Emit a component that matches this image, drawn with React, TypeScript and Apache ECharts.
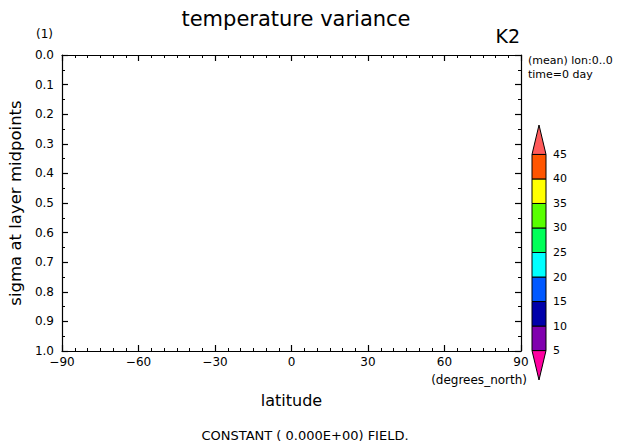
import React, { useEffect, useRef } from "react";
import * as echarts from "echarts";

const titleText = "temperature variance";
const unitText = "(1)";
const expText = "K2";
const infoLines = ["(mean) lon:0..0", "time=0 day"];
const xName = "latitude";
const xUnit = "(degrees_north)";
const yName = "sigma at layer midpoints";
const footText = "CONSTANT ( 0.000E+00) FIELD.";

const latMin = -90;
const latMax = 90;
const latStep = 30;
const sigmaMin = 0;
const sigmaMax = 1;
const sigmaStep = 0.1;

const levels = [5, 10, 15, 20, 25, 30, 35, 40, 45];
const levelColors = [
  "#FF00A0",
  "#8000AE",
  "#0000AA",
  "#0058FF",
  "#00FFFF",
  "#00FF58",
  "#58FF00",
  "#FFFF00",
  "#FF5500",
  "#FF5A5A",
];

const FONT = "DejaVu Sans";

function fmtLat(v: number) {
  return v < 0 ? "\u2212" + Math.abs(v) : String(v);
}

export default function App() {
  const ref = useRef<HTMLDivElement>(null);
  useEffect(() => {
    if (!ref.current) return;
    const chart = echarts.init(ref.current, undefined, { renderer: "svg" });
    const ext = 6;
    const barData = levelColors.map((c, i) => {
      const low = i === 0 ? levels[0] - ext : levels[i - 1];
      const high = i === levels.length ? levels[levels.length - 1] + ext : levels[i];
      return [low, high, i];
    });
    const axisLine = { onZero: false, lineStyle: { color: "#000", width: 1.2 } };
    const tick = { inside: true, length: 6, lineStyle: { color: "#000", width: 1.2 } };
    const minor = (n: number) => ({
      show: true,
      splitNumber: n,
      length: 3,
      lineStyle: { color: "#000", width: 1 },
    });
    chart.setOption({
      animation: false,
      backgroundColor: "#fff",
      textStyle: { fontFamily: FONT, color: "#000" },
      title: {
        text: titleText,
        left: 291,
        textAlign: "center",
        top: 3,
        textStyle: { fontSize: 21, fontWeight: "normal", color: "#000", fontFamily: FONT },
      },
      grid: [
        { left: 62, right: 102, top: 55, bottom: 96, containLabel: false, outerBoundsMode: "none" },
        { left: 532, width: 14, top: 125, height: 255, containLabel: false, outerBoundsMode: "none" },
      ],
      xAxis: [
        {
          type: "value",
          gridIndex: 0,
          position: "bottom",
          min: latMin,
          max: latMax,
          interval: latStep,
          axisLine,
          axisTick: tick,
          minorTick: minor(6),
          splitLine: { show: false },
          axisLabel: { formatter: fmtLat, fontSize: 12, color: "#000", margin: 5, fontFamily: FONT },
          name: xName,
          nameLocation: "middle",
          nameGap: 41,
          nameTextStyle: { fontSize: 16, color: "#000", fontFamily: FONT },
        },
        {
          type: "value",
          gridIndex: 0,
          position: "top",
          min: latMin,
          max: latMax,
          interval: latStep,
          axisLine,
          axisTick: tick,
          minorTick: minor(6),
          splitLine: { show: false },
          axisLabel: { show: false },
        },
        { type: "value", gridIndex: 1, min: 0, max: 1, show: false },
      ],
      yAxis: [
        {
          type: "value",
          gridIndex: 0,
          position: "left",
          inverse: true,
          min: sigmaMin,
          max: sigmaMax,
          interval: sigmaStep,
          axisLine,
          axisTick: tick,
          minorTick: minor(2),
          splitLine: { show: false },
          axisLabel: {
            formatter: (v: number) => v.toFixed(1),
            fontSize: 12,
            color: "#000",
            margin: 8,
            fontFamily: FONT,
          },
          name: yName,
          nameLocation: "middle",
          nameGap: 34,
          nameRotate: 90,
          nameTextStyle: { fontSize: 16.5, color: "#000", fontFamily: FONT },
        },
        {
          type: "value",
          gridIndex: 0,
          position: "right",
          inverse: true,
          min: sigmaMin,
          max: sigmaMax,
          interval: sigmaStep,
          axisLine,
          axisTick: tick,
          minorTick: minor(2),
          splitLine: { show: false },
          axisLabel: { show: false },
        },
        {
          type: "value",
          gridIndex: 1,
          min: levels[0] - ext,
          max: levels[levels.length - 1] + ext,
          show: false,
        },
      ],
      series: [
        {
          type: "custom",
          xAxisIndex: 2,
          yAxisIndex: 2,
          clip: false,
          silent: true,
          data: barData,
          renderItem: (params: any, api: any) => {
            const low = api.value(0);
            const high = api.value(1);
            const i = api.value(2);
            const pLow = api.coord([0, low]);
            const pHigh = api.coord([1, high]);
            const xl = pLow[0];
            const xr = pHigh[0];
            const xm = (xl + xr) / 2;
            const color = levelColors[i];
            const children: any[] = [];
            if (i === 0) {
              children.push({
                type: "polygon",
                shape: { points: [[xl, pHigh[1]], [xr, pHigh[1]], [xm, pLow[1]]] },
                style: { fill: color, stroke: "#000", lineWidth: 1 },
              });
            } else if (i === levels.length) {
              children.push({
                type: "polygon",
                shape: { points: [[xl, pLow[1]], [xr, pLow[1]], [xm, pHigh[1]]] },
                style: { fill: color, stroke: "#000", lineWidth: 1 },
              });
            } else {
              children.push({
                type: "rect",
                shape: { x: xl, y: pHigh[1], width: xr - xl, height: pLow[1] - pHigh[1] },
                style: { fill: color, stroke: "#000", lineWidth: 1 },
              });
            }
            if (i >= 1) {
              children.push({
                type: "text",
                style: {
                  text: String(levels[i - 1]),
                  x: xr + 7,
                  y: pLow[1],
                  verticalAlign: "middle",
                  align: "left",
                  fontSize: 11,
                  fill: "#000",
                  fontFamily: FONT,
                },
              });
            }
            return { type: "group", children };
          },
        },
      ],
      graphic: [
        {
          type: "text",
          left: 36,
          top: 28,
          style: { text: unitText, fontSize: 12, fill: "#000", fontFamily: FONT },
        },
        {
          type: "text",
          right: 103,
          top: 26,
          style: { text: expText, fontSize: 19, fill: "#000", fontFamily: FONT },
        },
        {
          type: "text",
          left: 528,
          top: 53,
          style: { text: infoLines.join("\n"), fontSize: 11, lineHeight: 14, fill: "#000", fontFamily: FONT },
        },
        {
          type: "text",
          right: 96,
          top: 374,
          style: { text: xUnit, fontSize: 12, fill: "#000", fontFamily: FONT },
        },
        {
          type: "text",
          x: 305,
          y: 435,
          style: {
            text: footText,
            fontSize: 13,
            fill: "#000",
            fontFamily: FONT,
            align: "center",
            verticalAlign: "middle",
          },
        },
      ],
    });
    return () => chart.dispose();
  }, []);
  return (
    <div
      ref={ref}
      style={{ position: "fixed", left: 0, top: 0, width: 623, height: 447 }}
    />
  );
}
